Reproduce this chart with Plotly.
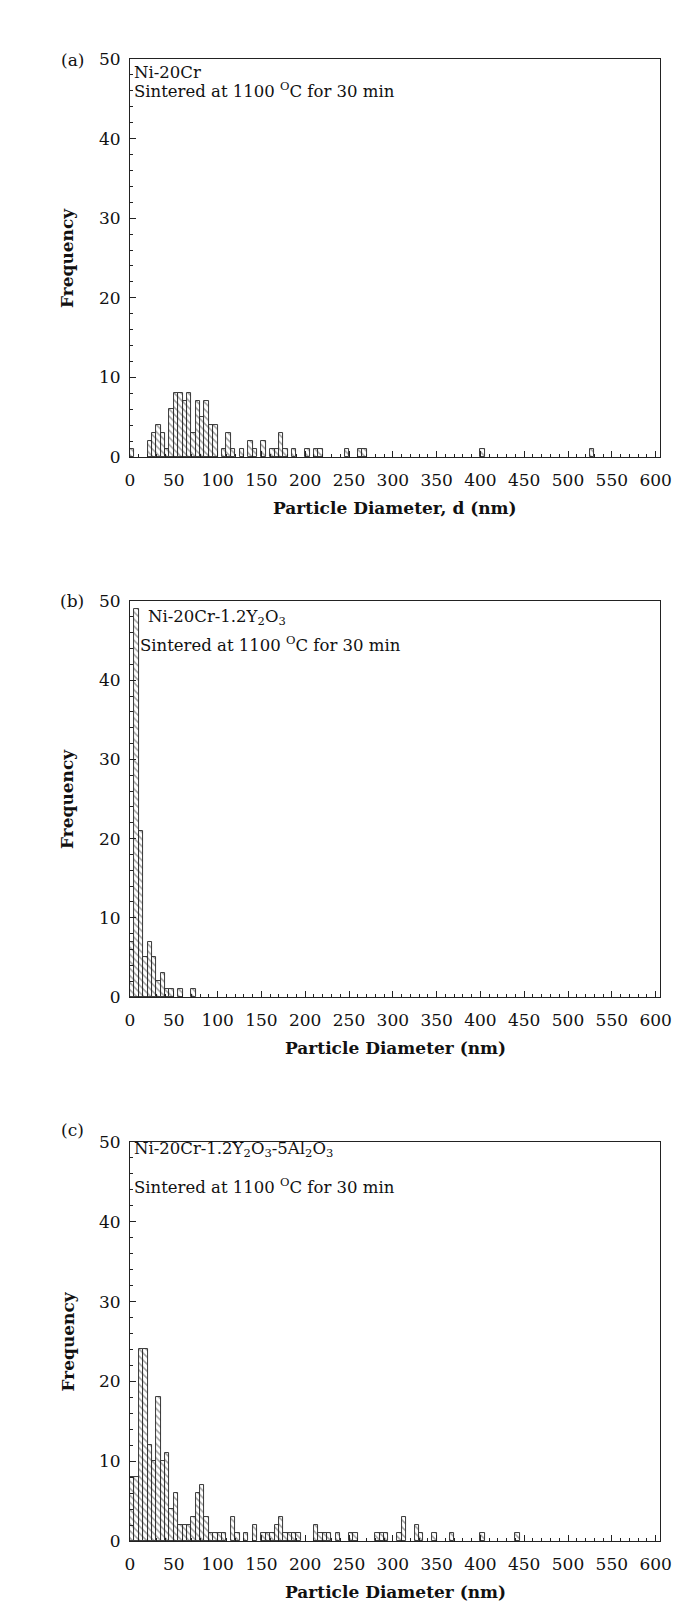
import plotly.graph_objects as go

# ---------------- data (bin start in nm, 5 nm bins) ----------------
bin_width = 5

a_bins = [0, 20, 25, 30, 35, 40, 45, 50, 55, 60, 65, 70, 75, 80, 85, 90, 95,
          105, 110, 115, 125, 135, 140, 150, 160, 165, 170, 175, 185, 200,
          210, 215, 245, 260, 265, 400, 525]
a_freq = [1, 2, 3, 4, 3, 1, 6, 8, 8, 7, 8, 3, 7, 5, 7, 4, 4,
          1, 3, 1, 1, 2, 1, 2, 1, 1, 3, 1, 1, 1,
          1, 1, 1, 1, 1, 1, 1]

b_bins = [0, 5, 10, 15, 20, 25, 30, 35, 40, 45, 55, 70]
b_freq = [7, 49, 21, 5, 7, 5, 2, 3, 1, 1, 1, 1]

c_bins = [0, 5, 10, 15, 20, 25, 30, 35, 40, 45, 50, 55, 60, 65, 70, 75, 80, 85,
          90, 95, 100, 105, 115, 120, 130, 140, 150, 155, 160, 165, 170, 175,
          180, 185, 190, 210, 215, 220, 225, 235, 250, 255, 280, 285, 290,
          305, 310, 325, 330, 345, 365, 400, 440]
c_freq = [8, 8, 24, 24, 12, 10, 18, 10, 11, 4, 6, 2, 2, 2, 3, 6, 7, 3,
          1, 1, 1, 1, 3, 1, 1, 2, 1, 1, 1, 2, 3, 1,
          1, 1, 1, 2, 1, 1, 1, 1, 1, 1, 1, 1, 1,
          1, 3, 2, 1, 1, 1, 1, 1]

x_ticks = list(range(0, 601, 50))
y_ticks = list(range(0, 51, 10))

panel_labels = ["(a)", "(b)", "(c)"]
x_titles = ["Particle Diameter, d (nm)", "Particle Diameter (nm)", "Particle Diameter (nm)"]
sample_names = ["Ni-20Cr", "Ni-20Cr-1.2Y<sub>2</sub>O<sub>3</sub>",
                "Ni-20Cr-1.2Y<sub>2</sub>O<sub>3</sub>-5Al<sub>2</sub>O<sub>3</sub>"]
condition = "Sintered at 1100 <sup>O</sup>C for 30 min"

# ---------------- layout geometry (pixels) ----------------
W, H = 696, 1617
plot_left, plot_right = 130, 660
panels_px = [(59, 457), (601, 997), (1142, 1541)]  # (top, bottom)
label_y = [60, 601, 1130]
name_pos = [(132, 72), (146, 617), (132, 1149)]
cond_pos = [(132, 90), (138, 644), (132, 1186)]

FONT = "DejaVu Serif"
FS = 17
FS_TXT = 16.5

def px(x):
    return x / W

def py(y):
    return 1 - y / H

fig = go.Figure()
datasets = [(a_bins, a_freq), (b_bins, b_freq), (c_bins, c_freq)]

annotations = []
for i, (bins, freq) in enumerate(datasets):
    sfx = "" if i == 0 else str(i + 1)
    centers = [b + bin_width / 2 for b in bins]
    fig.add_trace(go.Bar(
        x=centers, y=freq, width=bin_width,
        xaxis="x" + sfx, yaxis="y" + sfx,
        marker=dict(color="white", line=dict(color="#222", width=0.9),
                    pattern=dict(shape="\\", fgcolor="#444", bgcolor="white",
                                 size=5, solidity=0.3)),
        showlegend=False,
    ))
    top, bot = panels_px[i]
    xa = dict(
        domain=[px(plot_left), px(plot_right)], range=[0, 605],
        anchor="y" + sfx, tickvals=x_ticks, ticks="inside", ticklen=6,
        tickcolor="#222", showline=True, mirror=True, linecolor="#222",
        linewidth=1, showgrid=False, zeroline=False, automargin=False,
        tickfont=dict(family=FONT, size=FS, color="#111"),
        ticklabelstandoff=8,
        minor=dict(dtick=10, ticks="inside", ticklen=3, tickcolor="#222"),
    )
    ya = dict(
        domain=[py(bot), py(top)], range=[0, 50],
        anchor="x" + sfx, tickvals=y_ticks, ticks="inside", ticklen=6,
        tickcolor="#222", showline=True, mirror=True, linecolor="#222",
        linewidth=1, showgrid=False, zeroline=False, automargin=False,
        tickfont=dict(family=FONT, size=FS, color="#111"),
        ticklabelstandoff=5,
        minor=dict(dtick=2, ticks="inside", ticklen=3, tickcolor="#222"),
    )
    fig.update_layout(**{"xaxis" + sfx: xa, "yaxis" + sfx: ya})

    # axis titles
    annotations.append(dict(
        x=px((plot_left + plot_right) / 2), y=py(bot + 51), xref="paper", yref="paper",
        text="<b>" + x_titles[i] + "</b>", showarrow=False,
        font=dict(family=FONT, size=FS, color="#111"), xanchor="center", yanchor="middle"))
    annotations.append(dict(
        x=px(67), y=py((top + bot) / 2), xref="paper", yref="paper",
        text="<b>Frequency</b>", textangle=-90, showarrow=False,
        font=dict(family=FONT, size=FS, color="#111"), xanchor="center", yanchor="middle"))
    # panel label
    annotations.append(dict(
        x=px(72), y=py(label_y[i]), xref="paper", yref="paper",
        text=panel_labels[i], showarrow=False,
        font=dict(family=FONT, size=FS, color="#111"), xanchor="center", yanchor="middle"))
    # texts
    annotations.append(dict(
        x=px(name_pos[i][0]), y=py(name_pos[i][1]), xref="paper", yref="paper",
        text=sample_names[i], showarrow=False,
        font=dict(family=FONT, size=FS_TXT, color="#111"), xanchor="left", yanchor="middle"))
    annotations.append(dict(
        x=px(cond_pos[i][0]), y=py(cond_pos[i][1]), xref="paper", yref="paper",
        text=condition, showarrow=False,
        font=dict(family=FONT, size=FS_TXT, color="#111"), xanchor="left", yanchor="middle"))

fig.update_layout(
    width=W, height=H, margin=dict(l=0, r=0, t=0, b=0, autoexpand=False),
    paper_bgcolor="white", plot_bgcolor="white",
    bargap=0, annotations=annotations,
)

fig.write_html("out.html",
               config={"displayModeBar": False},
               post_script="document.body.style.margin='0';document.body.style.padding='0';")
